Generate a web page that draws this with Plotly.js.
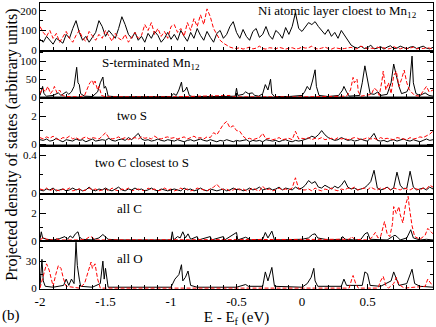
<!DOCTYPE html>
<html>
<head>
<meta charset="utf-8">
<script src="https://cdn.plot.ly/plotly-3.0.1.min.js"></script>
<style>html,body{margin:0;padding:0;background:#fff}#pdos{width:436px;height:327px}</style>
</head>
<body>
<div id="pdos"></div>
<script>
// energy grid (eV relative to Ef) for the dense panels
var energy = [-2,-1.975,-1.95,-1.925,-1.9,-1.875,-1.85,-1.825,-1.8,-1.775,-1.75,-1.725,-1.7,-1.675,-1.65,-1.625,-1.6,-1.575,-1.55,-1.525,-1.5,-1.475,-1.45,-1.425,-1.4,-1.375,-1.35,-1.325,-1.3,-1.275,-1.25,-1.225,-1.2,-1.175,-1.15,-1.125,-1.1,-1.075,-1.05,-1.025,-1,
  -0.975,-0.95,-0.925,-0.9,-0.875,-0.85,-0.825,-0.8,-0.775,-0.75,-0.725,-0.7,-0.675,-0.65,-0.625,-0.6,-0.575,-0.55,-0.525,-0.5,-0.475,-0.45,-0.425,-0.4,-0.375,-0.35,-0.325,-0.3,-0.275,-0.25,-0.225,-0.2,-0.175,-0.15,-0.125,-0.1,-0.075,-0.05,-0.025,0,
  0.025,0.05,0.075,0.1,0.125,0.15,0.175,0.2,0.225,0.25,0.275,0.3,0.325,0.35,0.375,0.4,0.425,0.45,0.475,0.5,0.525,0.55,0.575,0.6,0.625,0.65,0.675,0.7,0.725,0.75,0.775,0.8,0.825,0.85,0.875,0.9,0.925,0.95,0.975,1];

// 1. Ni atomic layer closest to Mn12
var niBlack = [55,40,70,50,30,60,45,35,80,60,110,150,90,50,70,40,65,90,150,120,70,100,80,60,110,170,130,80,60,90,50,70,40,85,60,95,75,40,60,90,55,
  80,50,100,70,45,90,60,110,75,50,95,65,40,85,100,60,80,120,145,90,60,105,70,50,95,110,65,80,120,75,55,100,85,60,115,80,120,190,110,95,
  120,140,130,145,120,100,80,105,70,90,60,100,75,45,25,15,10,20,8,12,25,6,10,18,5,15,22,8,10,20,12,6,15,18,8,12,20,10,6,14];
var niRed = [120,90,70,100,60,85,40,70,95,60,40,75,100,60,45,95,70,50,80,60,100,70,45,85,60,50,80,40,65,90,60,75,130,100,140,80,110,70,95,60,120,
  130,90,110,70,140,100,160,120,180,130,210,170,110,80,50,35,25,15,10,8,12,5,10,15,6,10,20,8,5,12,10,6,14,8,5,10,12,6,8,15,
  10,12,20,8,6,10,15,8,5,12,10,6,8,10,14,5,8,20,12,6,10,8,15,10,12,5,8,18,10,6,12,8,10,15,6,10,8,12,10,5];

// 2. S-terminated Mn12 (sparse peaks)
var mnBlackE = [-2,-1.99,-1.98,-1.97,-1.95,-1.9,-1.86,-1.84,-1.8,-1.78,-1.76,-1.74,-1.72,-1.71,-1.7,-1.69,-1.66,-1.6,-1.56,-1.54,-1.52,-1.51,-1.5,-1.49,-1.48,-1.4,-1.2,-1,-0.98,-0.96,-0.94,-0.92,-0.91,-0.89,-0.88,-0.86,-0.84,-0.7,-0.6,-0.51,-0.5,-0.49,-0.45,-0.43,-0.41,-0.38,-0.36,-0.33,-0.3,-0.28,-0.26,-0.24,-0.23,-0.21,-0.1,0,0.02,0.04,0.06,0.08,0.1,0.11,0.13,0.2,0.28,0.31,0.32,0.34,0.36,0.44,0.46,0.48,0.5,0.52,0.55,0.58,0.6,0.65,0.68,0.7,0.72,0.74,0.76,0.8,0.82,0.84,0.85,0.87,0.9,0.94,0.97,1];
var mnBlack = [5,15,30,10,3,5,12,5,15,8,15,30,83,40,35,10,3,2,15,40,56,25,30,20,3,1,1,2,10,5,20,42,15,20,28,5,2,1,2,3,25,5,8,15,10,12,5,3,10,35,20,50,10,2,2,5,15,30,20,45,76,30,5,2,5,20,30,15,3,5,40,87,45,10,8,15,5,8,40,92,60,30,10,15,30,114,40,10,5,12,5,3];
var mnRedE = [-2,-1.98,-1.96,-1.94,-1.92,-1.9,-1.89,-1.87,-1.85,-1.83,-1.8,-1.7,-1.66,-1.64,-1.62,-1.6,-1.59,-1.58,-1.56,-1.55,-1.53,-1.5,-1,-0.55,-0.54,0,0.34,0.37,0.39,0.4,0.42,0.43,0.45,0.53,0.55,0.57,0.59,0.61,0.62,0.64,0.66,0.68,0.7,0.72,0.74,0.76,0.78,0.8,0.82,0.86,0.9,0.93,0.95,0.97,1];
var mnRed = [10,25,15,30,10,20,30,12,20,5,2,1,5,25,40,47,35,45,20,30,5,1,1,5,1,1,3,20,55,40,50,15,3,8,25,20,5,45,72,20,40,10,60,72,30,50,75,40,20,5,3,20,30,15,20];

// 3. two S
var sBlack = [0.35,0.3,0.4,0.25,0.3,0.45,0.3,0.2,0.35,0.3,0.25,0.4,0.3,0.35,0.2,0.3,0.4,0.25,0.3,0.35,0.3,0.45,0.3,0.25,0.35,0.4,0.3,0.5,0.35,0.6,0.8,0.4,0.3,0.35,0.25,0.3,0.4,0.3,0.25,0.35,0.3,
  0.25,0.35,0.3,0.2,0.3,0.35,0.25,0.3,0.4,0.3,0.25,0.35,0.3,0.2,0.3,0.25,0.35,0.3,0.2,0.3,0.25,0.3,0.35,0.2,0.3,0.25,0.3,0.2,0.35,0.3,0.25,0.3,0.2,0.3,0.35,0.25,0.2,0.3,0.25,0.3,
  0.35,0.45,0.6,0.5,0.7,1.0,0.7,0.5,0.4,0.3,0.35,0.5,0.4,0.3,0.35,0.25,0.3,0.4,0.3,0.25,0.5,0.8,0.3,0.25,0.3,0.2,0.3,0.35,0.25,0.3,0.4,0.3,0.25,0.35,0.3,0.2,0.3,0.4,0.3,0.35];
var sRed = [0.5,0.4,0.55,0.45,0.6,0.4,0.35,0.5,0.45,0.6,0.4,0.5,0.35,0.45,0.55,0.4,0.5,0.45,0.4,0.6,0.85,0.5,0.4,0.45,0.55,0.4,0.5,0.35,0.45,0.5,0.4,0.55,0.45,0.5,0.4,0.6,0.45,0.4,0.5,0.55,0.45,
  0.5,0.4,0.45,0.55,0.4,0.5,0.6,0.45,0.5,0.4,0.55,0.5,0.85,0.7,1.1,1.45,1.65,1.2,1.35,1.0,0.95,0.6,0.4,0.45,0.35,0.4,0.5,0.8,0.4,0.45,0.35,0.4,0.5,0.35,0.4,0.45,0.35,0.95,0.4,0.45,
  0.4,0.5,0.35,0.45,0.4,0.5,0.35,0.4,0.45,0.35,0.5,0.4,0.45,0.35,0.4,0.5,0.45,0.35,0.4,0.5,0.4,0.45,0.35,0.5,0.4,0.45,0.4,0.35,0.5,0.45,0.4,0.35,0.5,0.4,0.45,0.55,0.5,0.6,0.75,0.95];

// 4. two C closest to S
var cBlack = [0.03,0.02,0.04,0.03,0.05,0.02,0.03,0.04,0.02,0.03,0.05,0.03,0.04,0.02,0.03,0.06,0.03,0.02,0.04,0.03,0.05,0.03,0.02,0.04,0.06,0.03,0.02,0.04,0.03,0.05,0.03,0.04,0.02,0.03,0.05,0.03,0.02,0.04,0.03,0.02,0.03,
  0.04,0.03,0.02,0.05,0.03,0.04,0.02,0.03,0.05,0.03,0.02,0.04,0.03,0.02,0.03,0.04,0.02,0.03,0.05,0.03,0.04,0.02,0.03,0.05,0.03,0.04,0.06,0.03,0.04,0.05,0.03,0.04,0.06,0.03,0.05,0.04,0.03,0.06,0.04,0.05,
  0.08,0.13,0.1,0.12,0.06,0.05,0.08,0.06,0.04,0.07,0.05,0.08,0.13,0.06,0.04,0.05,0.03,0.04,0.05,0.08,0.12,0.24,0.05,0.03,0.04,0.06,0.03,0.05,0.22,0.08,0.04,0.05,0.23,0.06,0.03,0.04,0.05,0.03,0.06,0.04];
var cRed = [0.04,0.03,0.05,0.02,0.04,0.03,0.02,0.04,0.03,0.05,0.02,0.03,0.04,0.02,0.03,0.05,0.03,0.04,0.02,0.03,0.04,0.02,0.05,0.03,0.02,0.04,0.03,0.05,0.02,0.03,0.04,0.03,0.02,0.05,0.03,0.04,0.02,0.03,0.05,0.03,0.04,
  0.02,0.03,0.05,0.03,0.04,0.02,0.03,0.05,0.04,0.03,0.02,0.04,0.06,0.09,0.05,0.03,0.04,0.02,0.03,0.05,0.03,0.04,0.02,0.03,0.05,0.03,0.02,0.07,0.03,0.04,0.02,0.03,0.05,0.03,0.04,0.03,0.05,0.16,0.04,0.03,
  0.03,0.04,0.02,0.05,0.03,0.02,0.04,0.03,0.05,0.03,0.02,0.04,0.03,0.05,0.04,0.06,0.03,0.04,0.05,0.03,0.06,0.04,0.03,0.05,0.04,0.06,0.03,0.05,0.04,0.03,0.05,0.04,0.03,0.05,0.04,0.03,0.05,0.04,0.08,0.06];

// 5. all C (sparse)
var allCBlackE = [-2,-1.99,-1.98,-1.95,-1.9,-1.85,-1.81,-1.79,-1.77,-1.75,-1.73,-1.71,-1.7,-1.68,-1.6,-1.55,-1.52,-1.5,-1.48,-1.4,-1.2,-1,-0.99,-0.98,-0.95,-0.93,-0.91,-0.89,-0.87,-0.85,-0.8,-0.79,-0.7,-0.69,-0.6,-0.59,-0.5,-0.49,-0.43,-0.41,-0.39,-0.3,-0.28,-0.26,-0.23,-0.21,-0.1,0,0.05,0.08,0.1,0.12,0.2,0.3,0.31,0.33,0.4,0.45,0.48,0.5,0.52,0.6,0.65,0.69,0.71,0.73,0.75,0.8,0.83,0.85,0.9,0.95,1];
var allCBlack = [0.1,0.65,0.2,0.1,0.05,0.15,0.3,0.1,0.35,0.2,0.5,0.65,0.3,0.1,0.05,0.2,0.45,0.3,0.1,0.05,0.05,0.05,0.65,0.05,0.3,0.2,0.65,0.2,0.5,0.1,0.3,0.05,0.3,0.05,0.3,0.05,0.6,0.05,0.25,0.15,0.05,0.1,0.6,0.2,0.7,0.05,0.05,0.1,0.2,0.45,0.5,0.2,0.05,0.1,0.3,0.1,0.05,0.1,0.5,0.6,0.1,0.1,0.05,0.3,0.4,0.25,0.05,0.2,0.8,0.2,0.05,0.1,0.05];
var allCRedE = [-2,-1.97,-1.95,-1.9,-1.88,-1.85,-1.7,-1.65,-1.62,-1.6,-1.58,-1.4,-1.2,-1,-0.8,-0.6,-0.4,-0.2,0,0.2,0.36,0.38,0.4,0.5,0.53,0.56,0.58,0.6,0.63,0.65,0.67,0.69,0.7,0.72,0.74,0.75,0.77,0.79,0.81,0.82,0.84,0.86,0.9,0.94,0.96,0.98,1];
var allCRed = [0.05,0.25,0.1,0.05,0.15,0.05,0.05,0.1,0.3,0.25,0.05,0.05,0.1,0.05,0.1,0.05,0.1,0.05,0.1,0.05,0.1,0.3,0.1,0.05,0.2,0.6,0.2,0.3,1.4,0.5,0.3,1.2,2.5,2.0,2.5,1.9,1.3,2.6,3.25,2.4,1.1,0.3,0.1,0.4,0.9,0.7,0.5];

// 6. all O (sparse)
var allOBlackE = [-2,-1.985,-1.975,-1.96,-1.9,-1.82,-1.8,-1.78,-1.76,-1.74,-1.725,-1.715,-1.7,-1.69,-1.6,-1.54,-1.52,-1.51,-1.5,-1.49,-1.48,-1,-0.97,-0.94,-0.92,-0.91,-0.89,-0.87,-0.85,-0.8,-0.5,-0.43,-0.41,-0.3,-0.28,-0.26,-0.23,-0.21,0,0.04,0.07,0.09,0.1,0.12,0.3,0.32,0.34,0.46,0.48,0.5,0.52,0.6,0.68,0.7,0.72,0.74,0.8,0.84,0.86,0.9,1];
var allOBlack = [2,32,8,2,1,3,10,3,10,5,51,25,10,2,1,5,30,10,22,8,1,1,10,15,26,8,12,19,3,1,1,4,2,2,18,8,23,2,1,5,12,22,8,2,2,10,3,3,18,16,3,2,8,18,10,3,5,21,5,2,1];
var allORedE = [-2,-1.98,-1.96,-1.95,-1.93,-1.91,-1.9,-1.88,-1.86,-1.84,-1.82,-1.8,-1.7,-1.66,-1.63,-1.61,-1.6,-1.58,-1.56,-1.54,-1,0.36,0.38,0.39,0.41,0.43,0.58,0.6,0.62,0.64,0.66,0.7,0.72,0.74,0.78,0.94,0.96,0.98,1];
var allORed = [0,10,22,27,20,8,2,15,25,22,10,2,0,5,20,29,22,27,10,0,0,0,10,14,5,0,0,8,13,3,0,5,12,4,0,2,10,6,2];

// axis ticks
var xTickVals = [-2,-1.5,-1,-0.5,0,0.5,1];
var xTickText = ['-2','-1.5','-1','-0.5','0','0.5','1'];
var panelLabels = ['Ni atomic layer cloest to Mn<sub>12</sub>','S-terminated Mn<sub>12</sub>','two S','two C closest to S','all C','all O'];
var yRanges = [[-3,240],[-3,129],[-0.1,3.3],[-0.01,0.5],[-0.05,3.45],[-1,52]];
var yMajor = [100,50,2,0.4,2,30];
var yMinor = [50,25,1,0.2,1,15];

var serif = '"Liberation Serif", "Times New Roman", serif';
var blackLine = {color: 'black', width: 1};
var redLine = {color: '#ff0000', width: 1, dash: '4px,2px'};

var panels = [
  [energy, niBlack, energy, niRed],
  [mnBlackE, mnBlack, mnRedE, mnRed],
  [energy, sBlack, energy, sRed],
  [energy, cBlack, energy, cRed],
  [allCBlackE, allCBlack, allCRedE, allCRed],
  [allOBlackE, allOBlack, allORedE, allORed]
];

var data = [];
var layout = {
  width: 436, height: 327,
  margin: {l: 40, r: 3, t: 3, b: 38},
  paper_bgcolor: 'white', plot_bgcolor: 'white',
  showlegend: false,
  font: {family: serif, size: 12, color: 'black'},
  annotations: []
};

for (var k = 1; k <= 6; k++) {
  var p = panels[k - 1];
  var sfx = k == 1 ? '' : String(k);
  data.push({x: p[0], y: p[1], type: 'scatter', mode: 'lines', line: blackLine, xaxis: 'x' + sfx, yaxis: 'y' + sfx, hoverinfo: 'skip'});
  data.push({x: p[2], y: p[3], type: 'scatter', mode: 'lines', line: redLine, xaxis: 'x' + sfx, yaxis: 'y' + sfx, hoverinfo: 'skip'});

  var xa = {
    anchor: 'y' + sfx, range: [-2, 1],
    showline: true, linecolor: 'black', linewidth: 1, mirror: true,
    showgrid: false, zeroline: false,
    ticks: 'inside', ticklen: 5, tickcolor: 'black',
    tickmode: 'array', tickvals: xTickVals, ticktext: xTickText,
    minor: {ticks: 'inside', ticklen: 4, tickcolor: 'black', tickmode: 'linear', tick0: -2, dtick: 0.1},
    showticklabels: k == 6,
    tickfont: {size: 13}
  };
  if (k > 1) xa.matches = 'x';
  layout['xaxis' + sfx] = xa;
  layout['yaxis' + sfx] = {
    anchor: 'x' + sfx, domain: [(6 - k) / 6, (7 - k) / 6], range: yRanges[k - 1],
    showline: true, linecolor: 'black', linewidth: 1, mirror: 'ticks',
    showgrid: false,
    zeroline: k > 1, zerolinecolor: '#8c8c8c', zerolinewidth: 2,
    ticks: 'inside', ticklen: 6, tickcolor: 'black',
    tick0: 0, dtick: yMajor[k - 1],
    minor: {ticks: 'inside', ticklen: 3, tickcolor: 'black', tick0: 0, dtick: yMinor[k - 1]},
    tickfont: {size: 11}
  };
}

layout.xaxis6.title = {text: 'E - E<sub>f</sub> (eV)', font: {size: 15}, standoff: 0};

// panel labels (paper coords, centred)
var labelPos = [[0.756, 0.972], [0.282, 0.787], [0.234, 0.608], [0.26, 0.444], [0.229, 0.28], [0.229, 0.105]];
for (var i = 0; i < 6; i++) {
  layout.annotations.push({text: panelLabels[i], xref: 'paper', yref: 'paper', x: labelPos[i][0], y: labelPos[i][1],
    xanchor: 'center', yanchor: 'middle', showarrow: false, font: {size: 13}});
}
layout.annotations.push({text: 'Projected density of states (arbitrary units)', xref: 'paper', yref: 'paper',
  x: -0.072, y: 0.503, xanchor: 'center', yanchor: 'middle', textangle: -90, showarrow: false, font: {size: 16}});
layout.annotations.push({text: '(b)', xref: 'paper', yref: 'paper', x: -0.074, y: -0.093,
  xanchor: 'center', yanchor: 'middle', showarrow: false, font: {size: 15}});

Plotly.newPlot('pdos', data, layout, {displayModeBar: false, staticPlot: true});
</script>
</body>
</html>
